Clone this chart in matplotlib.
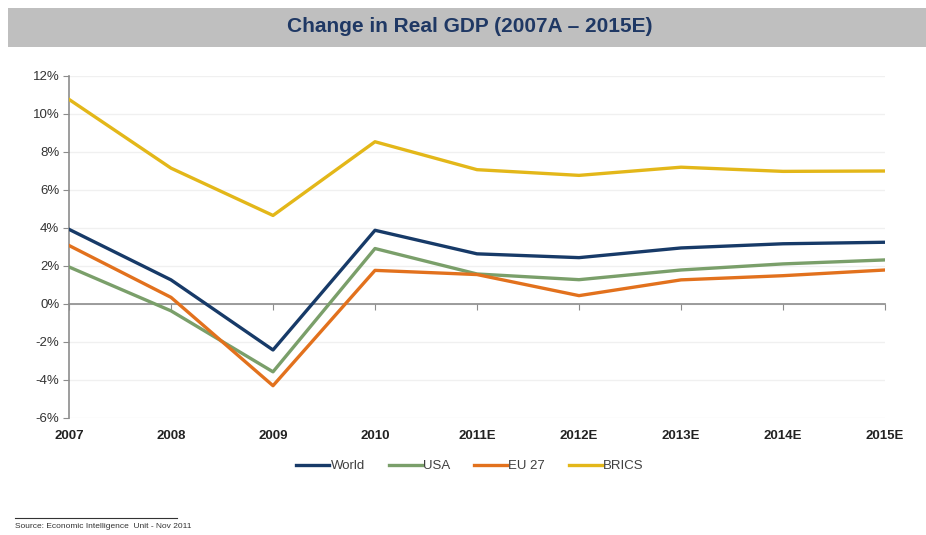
import matplotlib
matplotlib.use("Agg")
import matplotlib.pyplot as plt
import matplotlib.transforms as mtransforms
from matplotlib.patches import Rectangle
from matplotlib.lines import Line2D

plt.rcParams['font.family'] = ['Liberation Sans', 'DejaVu Sans']

years = ["2007", "2008", "2009", "2010", "2011E", "2012E", "2013E", "2014E", "2015E"]
world = [3.93, 1.27, -2.42, 3.88, 2.64, 2.44, 2.95, 3.17, 3.25]
usa = [1.95, -0.36, -3.57, 2.92, 1.58, 1.28, 1.79, 2.11, 2.32]
eu27 = [3.08, 0.35, -4.3, 1.77, 1.55, 0.44, 1.27, 1.49, 1.79]
brics = [10.77, 7.15, 4.66, 8.54, 7.07, 6.77, 7.2, 6.98, 7.0]
yticks = [-6, -4, -2, 0, 2, 4, 6, 8, 10, 12]

series = [("World", world, "#173a68"), ("USA", usa, "#7a9f6a"),
          ("EU 27", eu27, "#e2711d"), ("BRICS", brics, "#e3b719")]

fig = plt.figure(figsize=(9.26, 5.35), dpi=100)
fig.patch.set_facecolor("white")

# title band
fig.patches.append(Rectangle((8/926, 1-47/535), 918/926, 39/535, transform=fig.transFigure,
                             facecolor="#bfbfbf", edgecolor="none"))
fig.text(470/926, 1-27/535, "Change in Real GDP (2007A – 2015E)", ha="center", va="center",
         fontsize=15, fontweight="bold", color="#1f3864")

ax = fig.add_axes([69/926, 117/535, (885-69)/926, (418-76)/535])
x = list(range(len(years)))
for name, vals, col in series:
    ax.plot(x, vals, color=col, lw=2.4, label=name, solid_joinstyle="round", zorder=3)

ax.set_xlim(0, len(years) - 1)
ax.set_ylim(-6, 12)
ax.set_yticks(yticks)
ax.set_yticklabels([f"{v}%" for v in yticks], fontsize=9.5, color="#333333")
for v in yticks:
    ax.axhline(v, color="#f0f0f0", lw=1, zorder=0)

for s in ["top", "right"]:
    ax.spines[s].set_visible(False)
ax.spines["left"].set_color("#8c8c8c")
ax.spines["left"].set_linewidth(1.2)
ax.spines["bottom"].set_position(("data", 0))
ax.spines["bottom"].set_color("#8c8c8c")
ax.spines["bottom"].set_linewidth(1.2)
ax.tick_params(axis="y", direction="out", length=4, color="#8c8c8c", pad=3)
ax.set_xticks(x)
ax.tick_params(axis="x", direction="out", length=4, color="#8c8c8c", labelbottom=False)

trans = mtransforms.blended_transform_factory(ax.transData, ax.transAxes)
for xi, lab in zip(x, years):
    ax.text(xi, -0.035, lab, transform=trans, ha="center", va="top",
            fontsize=9.5, fontweight="bold", color="#222222")

handles = [Line2D([0], [0], color=c, lw=2.4) for _, _, c in series]
fig.legend(handles, [n for n, _, _ in series], loc="center", bbox_to_anchor=(470/926, 1-466/535),
           ncol=4, frameon=False, fontsize=9.5, handlelength=2.5, handletextpad=0.1,
           columnspacing=1.8, labelcolor="#404040")

fig.add_artist(Line2D([15/926, 177/926], [1-518/535, 1-518/535], transform=fig.transFigure,
                      color="#333333", lw=0.8))
fig.text(15/926, 1-526/535, "Source: Economic Intelligence  Unit - Nov 2011", ha="left", va="center",
         fontsize=6, color="#333333")

fig.savefig("out.png", dpi=100)
